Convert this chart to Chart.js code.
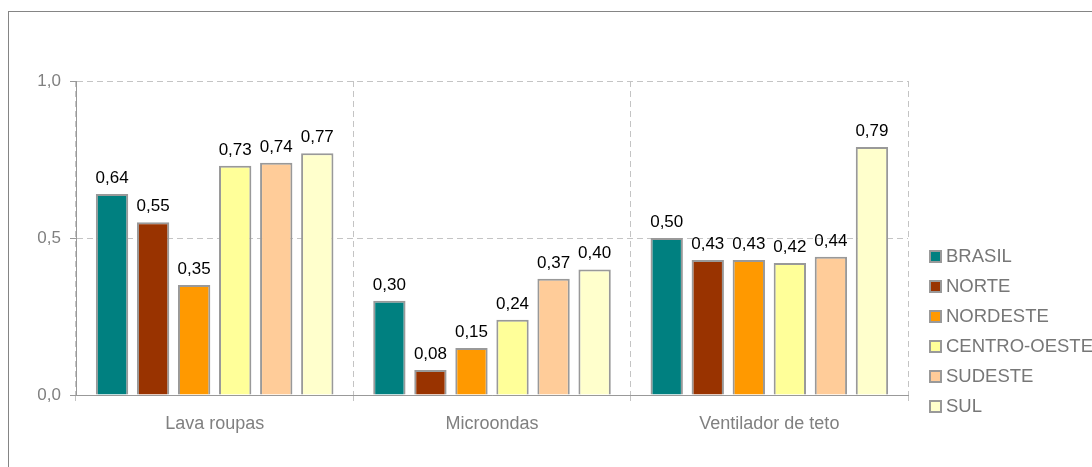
<!DOCTYPE html>
<html>
<head>
<meta charset="utf-8">
<script src="https://cdn.jsdelivr.net/npm/chart.js@4"></script>
<style>
  html, body { margin: 0; padding: 0; background: #fff; }
  body { width: 1092px; height: 467px; position: relative; overflow: hidden; font-family: "Liberation Sans", Arial, sans-serif; }
  #frame { position: absolute; left: 8px; top: 11px; width: 1100px; height: 470px; border-top: 1px solid #858585; border-left: 1px solid #858585; }
  #wrap { position: absolute; left: 0; top: 0; width: 1092px; height: 467px; }
  #legend { position: absolute; left: 929px; top: 246px; }
  #legend .row { height: 30px; display: flex; align-items: center; position: relative; top: -5px; }
  #legend .box { width: 9px; height: 9px; border: 2px solid #999; margin-right: 4px; }
  #legend .txt { font-size: 18.5px; color: #777; white-space: nowrap; }
</style>
</head>
<body>
<div id="frame"></div>
<div id="wrap"><canvas id="chart" width="1092" height="467"></canvas></div>
<div id="legend"></div>
<script>
// ---------- DATA ----------
const categories = ['Lava roupas', 'Microondas', 'Ventilador de teto'];
const regions = ['BRASIL', 'NORTE', 'NORDESTE', 'CENTRO-OESTE', 'SUDESTE', 'SUL'];
const brasil = [0.64, 0.30, 0.50];
const norte = [0.55, 0.08, 0.43];
const nordeste = [0.35, 0.15, 0.43];
const centroOeste = [0.73, 0.24, 0.42];
const sudeste = [0.74, 0.37, 0.44];
const sul = [0.77, 0.40, 0.79];
const yTicks = [0, 0.5, 1.0];

// ---------- STYLE ----------
const colors = ['#008080', '#993300', '#FF9900', '#FFFF99', '#FFCC99', '#FFFFCC'];
const series = [brasil, norte, nordeste, centroOeste, sudeste, sul];
const fontFamily = '"Liberation Sans", Arial, sans-serif';
const gridColor = '#c4c4c4';
const axisColor = '#999999';

const fmt = v => v.toFixed(2).replace('.', ',');

// value labels above the bars
const valueLabels = {
  id: 'valueLabels',
  afterDatasetsDraw(chart) {
    const ctx = chart.ctx;
    ctx.save();
    ctx.font = '17px ' + fontFamily;
    ctx.fillStyle = '#000';
    ctx.textAlign = 'center';
    ctx.textBaseline = 'alphabetic';
    chart.data.datasets.forEach((ds, i) => {
      chart.getDatasetMeta(i).data.forEach((bar, j) => {
        ctx.fillText(fmt(ds.data[j]), bar.x, bar.y - 11);
      });
    });
    ctx.restore();
  }
};

const ctx = document.getElementById('chart');

new Chart(ctx, {
  type: 'bar',
  data: {
    labels: categories,
    datasets: regions.map((name, i) => ({
      label: name,
      data: series[i],
      backgroundColor: colors[i],
      borderColor: '#999999',
      borderWidth: 2,
      categoryPercentage: 0.888,
      barPercentage: 0.788
    }))
  },
  options: {
    responsive: false,
    animation: false,
    devicePixelRatio: 1,
    layout: { padding: { left: 0, top: 81, right: 184, bottom: 0 } },
    plugins: {
      legend: { display: false },
      tooltip: { enabled: false }
    },
    scales: {
      x: {
        afterFit(scale) { scale.height = 72; },
        grid: {
          offset: true,
          color: gridColor,
          tickColor: gridColor,
          tickLength: 6,
          tickBorderDash: []
        },
        border: { color: axisColor, width: 1, dash: [6, 4] },
        ticks: {
          color: '#808080',
          padding: 12,
          font: { family: fontFamily, size: 18 }
        }
      },
      y: {
        min: 0,
        max: 1,
        afterFit(scale) { scale.width = 76; },
        afterBuildTicks(scale) { scale.ticks = yTicks.map(v => ({ value: v })); },
        grid: {
          color: gridColor,
          tickColor: axisColor,
          tickLength: 6,
          tickBorderDash: []
        },
        border: { color: axisColor, width: 1, dash: [6, 4] },
        ticks: {
          color: '#808080',
          padding: 9,
          font: { family: fontFamily, size: 17 },
          callback: v => v.toFixed(1).replace('.', ',')
        }
      }
    }
  },
  plugins: [valueLabels]
});

// ---------- LEGEND ----------
const legend = document.getElementById('legend');
regions.forEach((name, i) => {
  const row = document.createElement('div');
  row.className = 'row';
  const box = document.createElement('span');
  box.className = 'box';
  box.style.background = colors[i];
  const txt = document.createElement('span');
  txt.className = 'txt';
  txt.textContent = name;
  row.appendChild(box);
  row.appendChild(txt);
  legend.appendChild(row);
});
</script>
</body>
</html>
